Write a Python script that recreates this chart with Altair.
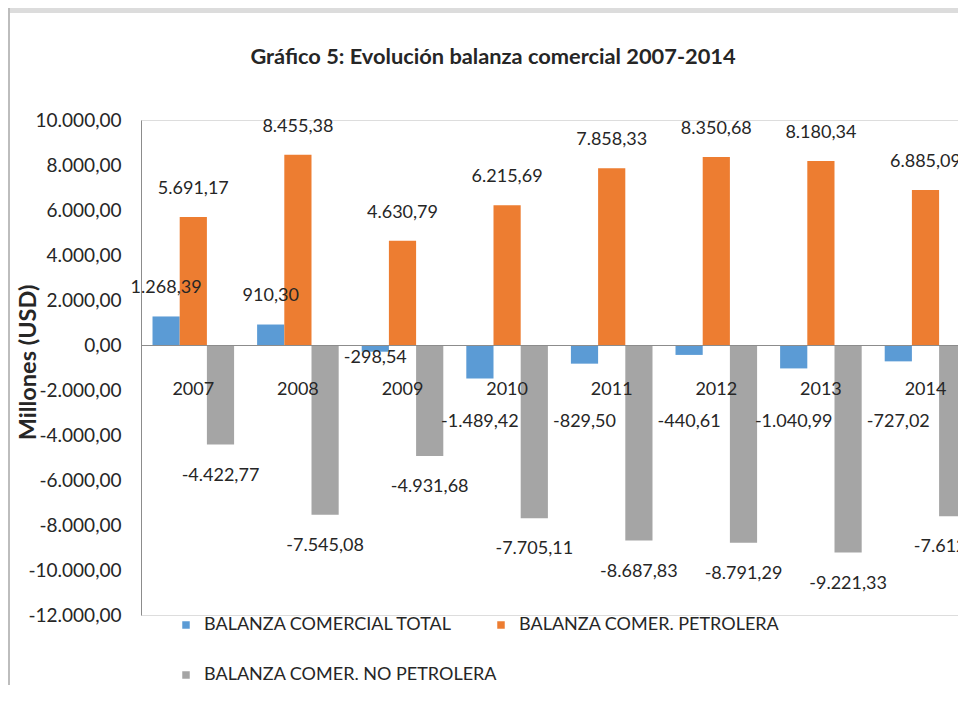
import altair as alt
import pandas as pd

# ---- data ----
years = ["2007", "2008", "2009", "2010", "2011", "2012", "2013", "2014"]
total = [1268.39, 910.30, -298.54, -1489.42, -829.50, -440.61, -1040.99, -727.02]
petrolera = [5691.17, 8455.38, 4630.79, 6215.69, 7858.33, 8350.68, 8180.34, 6885.09]
no_petrolera = [-4422.77, -7545.08, -4931.68, -7705.11, -8687.83, -8791.29, -9221.33, -7612.12]
series = ["BALANZA COMERCIAL TOTAL", "BALANZA COMER. PETROLERA", "BALANZA COMER. NO PETROLERA"]
colors = ["#5B9BD5", "#ED7D31", "#A5A5A5"]
y_ticks = [-12000, -10000, -8000, -6000, -4000, -2000, 0, 2000, 4000, 6000, 8000, 10000]
title_text = "Gráfico 5: Evolución balanza comercial 2007-2014"
y_title = "Millones (USD)"

rows = []
for s, vals in zip(series, [total, petrolera, no_petrolera]):
    for yr, v in zip(years, vals):
        rows.append({"year": yr, "serie": s, "valor": v})
df = pd.DataFrame(rows)

FONT = "Lato"
TXT = "#262626"
AXC = "#8c8c8c"

x_enc = alt.X(
    "year:N",
    sort=years,
    scale=alt.Scale(range=[0, 836.8], paddingInner=0.22, paddingOuter=0.11),
    axis=alt.Axis(
        title=None, orient="bottom", offset=-270, domainColor=AXC, domainWidth=1,
        ticks=False, labelAngle=0, labelPadding=35, labelFontSize=18,
        labelColor=TXT, labelFont=FONT, zindex=1, grid=False,
    ),
)
xoff = alt.XOffset("serie:N", sort=series, scale=alt.Scale(paddingInner=0, paddingOuter=0))
y_scale = alt.Scale(domain=[-12000, 10000], nice=False, zero=False)

base = alt.Chart(df)

bars = base.mark_bar().encode(
    x=x_enc,
    xOffset=xoff,
    y=alt.Y(
        "valor:Q",
        scale=y_scale,
        axis=alt.Axis(
            values=y_ticks, format=",.2f", title=y_title, grid=False, ticks=False,
            domainColor=AXC, domainWidth=1, labelPadding=20, labelFontSize=19,
            labelFont=FONT, labelColor=TXT, titleFont=FONT, titleFontSize=23.5,
            titleFontWeight="bold", titleColor=TXT, titleX=-113, titleY=242,
            titleAlign="center", titleAngle=270, titleBaseline="middle",
        ),
    ),
    color=alt.Color(
        "serie:N",
        sort=series,
        scale=alt.Scale(domain=series, range=colors),
        legend=alt.Legend(
            title=None, orient="none", legendX=36, legendY=496, direction="horizontal",
            columns=2, gridAlign="none", columnPadding=-6, rowPadding=32,
            symbolType="square", symbolSize=56, symbolStrokeWidth=0, labelFontSize=18,
            labelFont=FONT, labelColor=TXT, labelLimit=0, labelOffset=9,
        ),
    ),
)

label_expr = (
    "datum.valor >= 0 ? datum.valor + 1250 : "
    "(datum.serie == 'BALANZA COMERCIAL TOTAL' ? "
    "(datum.valor > -400 ? datum.valor - 280 : -3400) : datum.valor - 1380)"
)

labels = base.transform_calculate(label_y=label_expr).mark_text(
    font=FONT, fontSize=18, color=TXT, baseline="middle", align="center"
).encode(
    x=alt.X("year:N", sort=years),
    xOffset=alt.XOffset("serie:N", sort=series),
    y=alt.Y("label_y:Q", scale=y_scale),
    text=alt.Text("valor:Q", format=",.2f"),
)

deco = pd.DataFrame({"k": [0]})
top_band = alt.Chart(deco).mark_rule(color="#dcdcdc", strokeWidth=5).encode(
    x=alt.value(-133), x2=alt.value(840), y=alt.value(-109.5)
)
left_line = alt.Chart(deco).mark_rule(color="#bdbdbd", strokeWidth=2).encode(
    x=alt.value(-132), y=alt.value(-112), y2=alt.value(590)
)
title_mark = alt.Chart(deco).mark_text(
    font=FONT, fontSize=21.8, fontWeight="bold", color=TXT, align="center", baseline="middle"
).encode(x=alt.value(352), y=alt.value(-63), text=alt.value(title_text))

chart = (
    alt.layer(top_band, left_line, title_mark, bars, labels)
    .properties(
        width=817,
        height=495,
        autosize=alt.AutoSizeParams(type="none"),
        padding={"left": 133, "top": 112, "right": 0, "bottom": 70},
    )
    .configure_view(stroke=None)
    .configure(
        locale={
            "number": {
                "decimal": ",", "thousands": ".", "grouping": [3],
                "currency": ["", ""], "minus": "-",
            }
        }
    )
)

chart.save("out.html", embed_options={"renderer": "svg", "actions": False})
